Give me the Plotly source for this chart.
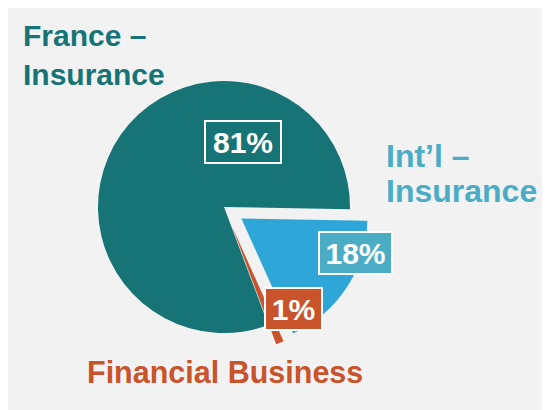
import plotly.graph_objects as go

# Data (clockwise from 3 o'clock)
categories = ["Int\u2019l \u2013 Insurance", "Financial Business", "France \u2013 Insurance"]
shares = [18, 1, 81]
slice_colors = ["#2EA7D8", "#C9532A", "#177476"]
label_box_colors = ["#4BACC6", "#C9532A", "#177476"]
pulls = [0.165, 0.165, 0.0]

# the page body has an 8px margin, so the figure is sized to fit the window
OFF = 8
W, H = 550 - OFF, 410 - OFF
FONT = "Liberation Sans, Arial, sans-serif"

def px(x, y):
    """page pixel -> paper fraction"""
    return (x - OFF) / W, 1 - (y - OFF) / H

cx, cy, half = 224, 207, 146.8
x0, y1 = px(cx - half, cy - half)
x1, y0 = px(cx + half, cy + half)

fig = go.Figure()
fig.add_trace(go.Pie(
    labels=categories,
    values=shares,
    sort=False,
    direction="clockwise",
    rotation=91,
    pull=pulls,
    marker=dict(colors=slice_colors, line=dict(width=0)),
    textinfo="none",
    hoverinfo="label+percent",
    showlegend=False,
    domain=dict(x=[x0, x1], y=[y0, y1]),
))

annotations = []
# Category names: list of (x, y, anchor, line text, colour, size)
cat_lines = {
    "France \u2013 Insurance": [(21, 55, "left", "France \u2013<br>Insurance", "#177476", 30)],
    "Int\u2019l \u2013 Insurance": [(384, 155.5, "left", "Int\u2019l \u2013", "#4BACC6", 32),
                                     (384, 190.5, "left", "Insurance", "#4BACC6", 32)],
    "Financial Business": [(225, 372, "center", "Financial Business", "#C9532A", 30.5)],
}
for cat in categories:
    for x, y, anc, txt, col, size in cat_lines[cat]:
        ax, ay = px(x, y)
        annotations.append(dict(
            x=ax, y=ay, xref="paper", yref="paper", xanchor=anc, yanchor="middle",
            text=txt, showarrow=False, align="left",
            font=dict(family=FONT, size=size, color=col, weight="bold"),
        ))

# Percentage boxes
box_pos = [(355.5, 253, 71), (293.5, 308.5, 55), (242.5, 141.5, 74)]
for v, c, (x, y, w) in zip(shares, label_box_colors, box_pos):
    ax, ay = px(x, y)
    annotations.append(dict(
        x=ax, y=ay, xref="paper", yref="paper", xanchor="center", yanchor="middle",
        text=f"{v}%", showarrow=False, width=w, height=40,
        bgcolor=c, bordercolor="white", borderwidth=2, borderpad=0,
        font=dict(family=FONT, size=30, color="white", weight="bold"),
    ))

fig.update_layout(
    width=W, height=H,
    margin=dict(l=0, r=0, t=0, b=0),
    paper_bgcolor="#F2F2F2",
    plot_bgcolor="#F2F2F2",
    annotations=annotations,
)

fig.write_html("out.html")
